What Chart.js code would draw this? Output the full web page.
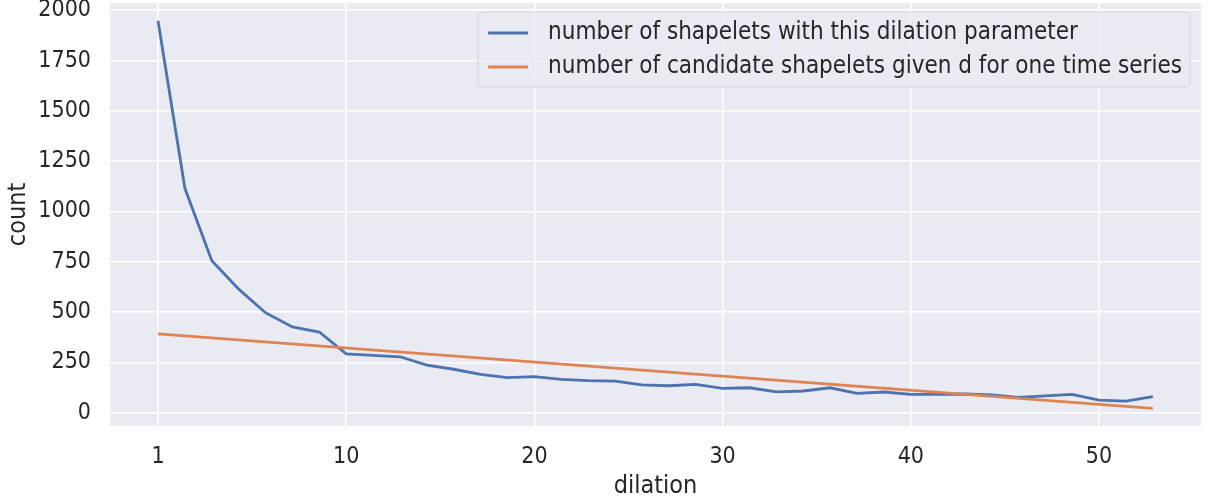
<!DOCTYPE html>
<html>
<head>
<meta charset="utf-8">
<script src="https://cdn.jsdelivr.net/npm/chart.js@4.4.1/dist/chart.umd.min.js"></script>
<style>
  html, body { margin: 0; padding: 0; background: #fff; }
</style>
</head>
<body>
<canvas id="chart" width="1213" height="501"></canvas>
<script>
// ── Data ──────────────────────────────────────
const dilation = [0, 1.43, 2.86, 4.29, 5.71, 7.14, 8.57, 10, 11.43, 12.86, 14.29, 15.71, 17.14,
  18.57, 20, 21.43, 22.86, 24.29, 25.71, 27.14, 28.57, 30, 31.43, 32.86, 34.29, 35.71, 37.14,
  38.57, 40, 41.43, 42.86, 44.29, 45.71, 47.14, 48.57, 50, 51.43, 52.86];
const shapeletCounts = [1948, 1115, 755, 614, 497, 426, 401, 292, 285, 278, 237, 216, 191,
  174, 179, 166, 159, 157, 138, 134, 141, 121, 124, 104, 108, 124, 96,
  103, 91, 91, 93, 88, 76, 84, 91, 63, 58, 80];
const candidateX = [0, 52.86];
const candidateCounts = [392, 22];

const xTickValues = [0, 10, 20, 30, 40, 50];
const xTickLabels = ['1', '10', '20', '30', '40', '50'];
const yTickValues = [0, 250, 500, 750, 1000, 1250, 1500, 1750, 2000];

const seriesLabels = [
  'number of shapelets with this dilation parameter',
  'number of candidate shapelets given d for one time series'
];

const FONT = "'DejaVu Sans Condensed', 'DejaVu Sans', sans-serif";
const TEXT = '#262626';
const BLUE = '#4c72b0';
const ORANGE = '#dd8452';

// ── Plot background ───────────────────────────
const plotBg = {
  id: 'plotBg',
  beforeDraw(chart) {
    const { ctx, chartArea: a } = chart;
    ctx.save();
    ctx.fillStyle = '#eaeaf2';
    ctx.fillRect(a.left, a.top, a.right - a.left, a.bottom - a.top);
    ctx.restore();
  }
};

// ── Legend inside the axes (top right) ────────
const insideLegend = {
  id: 'insideLegend',
  afterDraw(chart) {
    const { ctx, chartArea: a } = chart;
    const colors = [BLUE, ORANGE];
    ctx.save();
    ctx.font = `24px ${FONT}`;
    const textW = Math.max(...seriesLabels.map(s => ctx.measureText(s).width));
    const pad = 10, handle = 40, gap = 20, rowH = 34;
    const right = a.right - 11;
    const top = a.top + 9;
    const w = pad + handle + gap + textW + 8;
    const h = 75;
    const left = right - w;

    ctx.beginPath();
    ctx.roundRect(left, top, w, h, 4);
    ctx.fillStyle = 'rgba(234,234,242,0.85)';
    ctx.fill();
    ctx.strokeStyle = '#d4d4dc';
    ctx.lineWidth = 1;
    ctx.stroke();

    seriesLabels.forEach((label, i) => {
      const y = top + 4 + rowH * i + rowH / 2;
      ctx.beginPath();
      ctx.moveTo(left + pad, y);
      ctx.lineTo(left + pad + handle, y);
      ctx.strokeStyle = colors[i];
      ctx.lineWidth = 2.8;
      ctx.stroke();
      ctx.fillStyle = TEXT;
      ctx.textBaseline = 'middle';
      ctx.fillText(label, left + pad + handle + gap, y);
    });
    ctx.restore();
  }
};

// ── Chart ─────────────────────────────────────
const ctx = document.getElementById('chart').getContext('2d');
new Chart(ctx, {
  type: 'line',
  data: {
    datasets: [
      {
        label: seriesLabels[0],
        data: dilation.map((x, i) => ({ x, y: shapeletCounts[i] })),
        borderColor: BLUE,
        borderWidth: 2.8,
        pointRadius: 0,
        tension: 0,
        order: 1
      },
      {
        label: seriesLabels[1],
        data: candidateX.map((x, i) => ({ x, y: candidateCounts[i] })),
        borderColor: ORANGE,
        borderWidth: 2.8,
        pointRadius: 0,
        tension: 0,
        order: 0
      }
    ]
  },
  options: {
    responsive: false,
    animation: false,
    layout: { padding: { top: 3, right: 12, left: 0, bottom: 0 } },
    plugins: { legend: { display: false }, tooltip: { enabled: false } },
    scales: {
      x: {
        type: 'linear',
        min: -2.55,
        max: 55.42,
        border: { display: false },
        grid: { color: '#ffffff', lineWidth: 1.6, drawTicks: false },
        afterBuildTicks: s => { s.ticks = xTickValues.map(v => ({ value: v })); },
        afterFit: s => { s.height = 75; s.paddingLeft = 0; s.paddingRight = 0; },
        ticks: {
          padding: 17,
          color: TEXT,
          font: { family: FONT, size: 23 },
          maxRotation: 0,
          callback: v => xTickLabels[xTickValues.indexOf(v)]
        },
        title: {
          display: true,
          text: 'dilation',
          color: TEXT,
          font: { family: FONT, size: 25 },
          padding: { top: 2, bottom: 0 }
        }
      },
      y: {
        type: 'linear',
        min: -66,
        max: 2036,
        border: { display: false },
        grid: { color: '#ffffff', lineWidth: 1.6, drawTicks: false },
        afterBuildTicks: s => { s.ticks = yTickValues.map(v => ({ value: v })); },
        afterFit: s => { s.width = 110; s.paddingTop = 0; s.paddingBottom = 0; },
        ticks: {
          padding: 19,
          color: TEXT,
          font: { family: FONT, size: 23 },
          callback: v => String(v)
        },
        title: {
          display: true,
          text: 'count',
          color: TEXT,
          font: { family: FONT, size: 25 },
          padding: { top: 3, bottom: 0 }
        }
      }
    }
  },
  plugins: [plotBg, insideLegend]
});
</script>
</body>
</html>
